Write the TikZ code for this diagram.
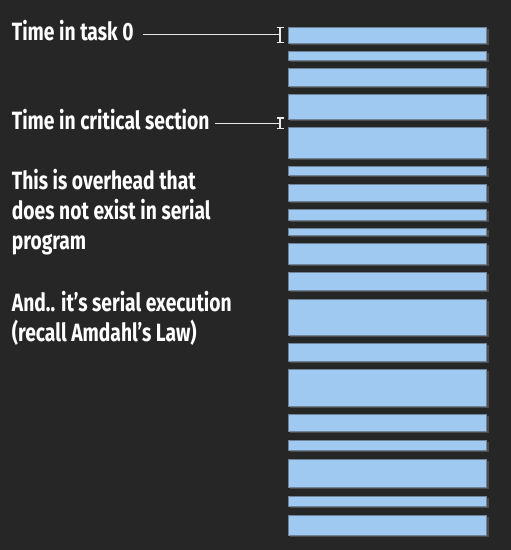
\documentclass[tikz,border=0pt]{standalone}
\usepackage{fontspec}
\setmainfont[FakeStretch=0.77]{Fira Sans}
\definecolor{bgc}{HTML}{262626}
\definecolor{barc}{HTML}{9FC9F0}
\definecolor{baredge}{HTML}{6E8298}
\definecolor{shadowc}{HTML}{4C4C4C}
\definecolor{linec}{HTML}{E8E8E8}
\begin{document}
\begin{tikzpicture}[x=1pt,y=-1pt,
  lbl/.style={anchor=base west,inner sep=0pt,text=white,font=\fontsize{25}{30}\selectfont\bfseries},
  bar/.style={fill=barc,draw=baredge,line width=0.6pt},
  barshadow/.style={fill=shadowc},
  lead/.style={draw=linec,line width=1.1pt},
  ibeam/.style={draw=linec,line width=1.1pt}]
\fill[bgc] (0,0) rectangle (511,550);
\useasboundingbox (0,0) rectangle (511,550);
% bars
\foreach \a/\b [count=\i] in {27/43,51/60,68/86,94/119,127/158,166/175,184/201,209/220,228/235,243/264,272/290,299/335,343/361,369/406,414/431,440/450,459/487,496/506,515/535}{
  \fill[barshadow] (289.5,\a+1.5) rectangle (489,\b+2);
  \path[bar] (288.3,\a) rectangle (486.5,\b) coordinate (bar\i);
}
% labels
\node[lbl] (t0) at (11.7,40.7) {Time in task 0};
\node[lbl] (tc) at (11.7,129.7) {Time in critical section};
\node[lbl] (o1) at (11.7,189) {This is overhead that};
\node[lbl] (o2) at (11.7,219.3) {does not exist in serial};
\node[lbl] (o3) at (11.7,249.5) {program};
\node[lbl] (s1) at (11.7,311.7) {And.. it’s serial execution};
\node[lbl] (s2) at (11.7,341.7) {(recall Amdahl’s Law)};
% brackets
\coordinate (b0) at (280,34.5);
\coordinate (b0t) at (280,27.3);
\coordinate (b0b) at (280,42.7);
\coordinate (bc) at (280,123.3);
\coordinate (bct) at (280,118);
\coordinate (bcb) at (280,128.3);
\draw[lead] (b0 -| t0.east) ++(9.5,0) -- (b0);
\draw[ibeam] (b0t) -- (b0b);
\draw[ibeam] ([xshift=-3.5pt]b0t) -- ([xshift=3.5pt]b0t);
\draw[ibeam] ([xshift=-3.5pt]b0b) -- ([xshift=3.5pt]b0b);
\draw[lead] (bc -| tc.east) ++(5.5,0) -- (bc);
\draw[ibeam] (bct) -- (bcb);
\draw[ibeam] ([xshift=-3.5pt]bct) -- ([xshift=3.5pt]bct);
\draw[ibeam] ([xshift=-3.5pt]bcb) -- ([xshift=3.5pt]bcb);
\end{tikzpicture}
\end{document}
